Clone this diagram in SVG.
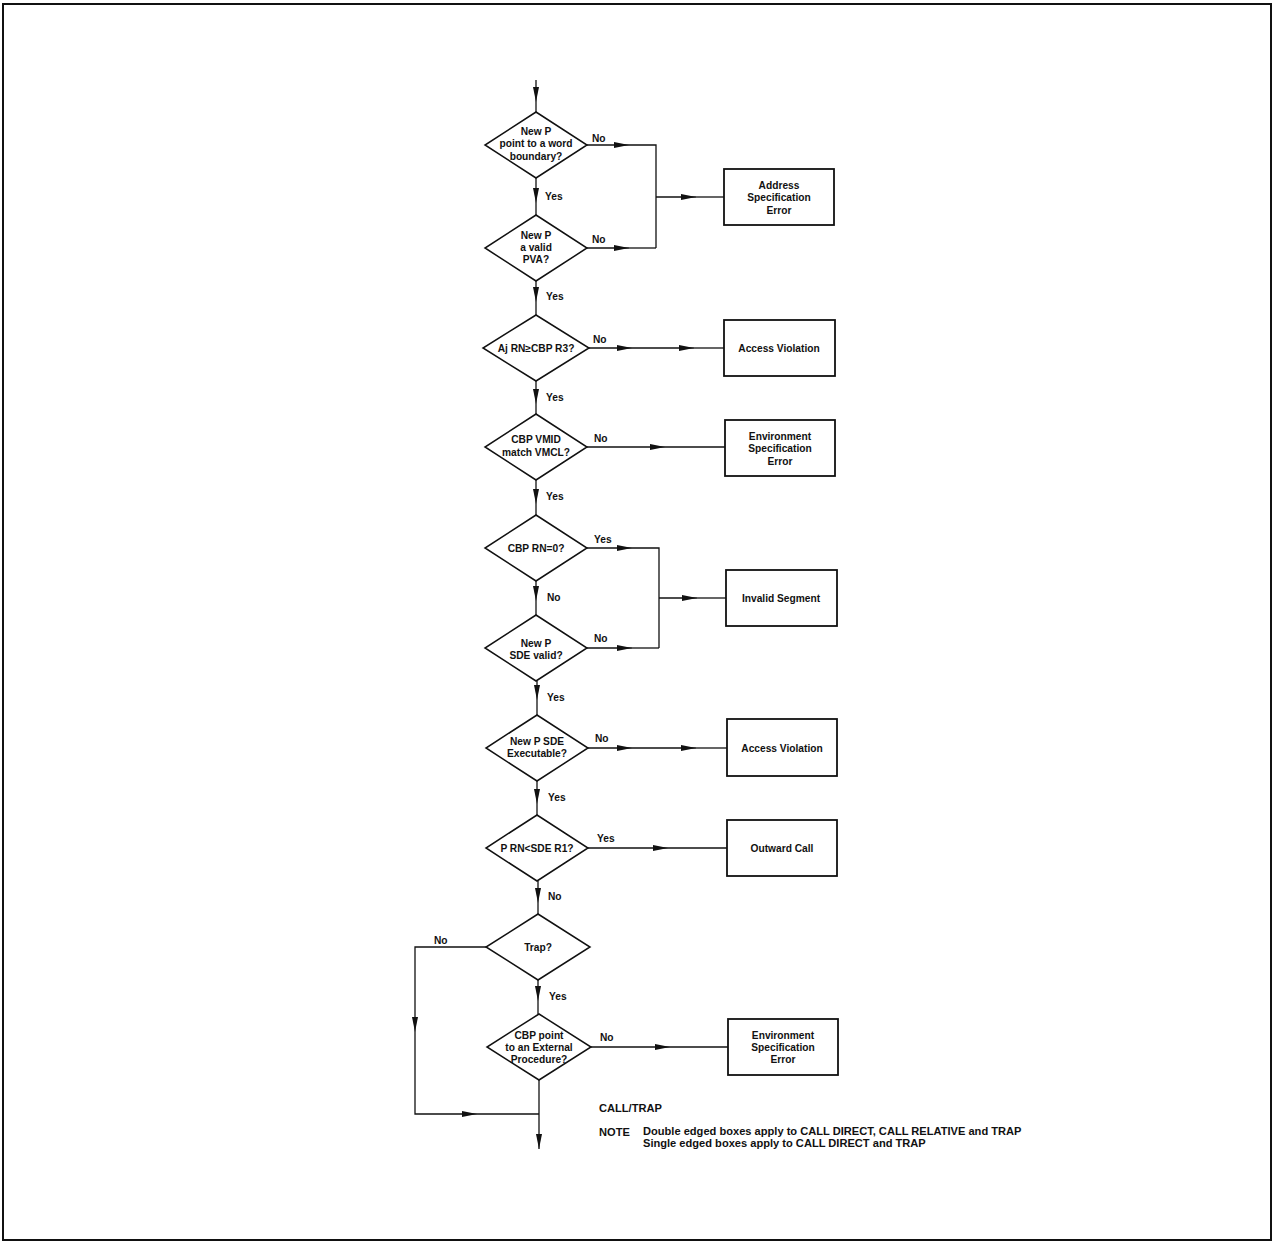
<svg xmlns="http://www.w3.org/2000/svg" width="1274" height="1243" viewBox="0 0 1274 1243">
<defs>
<marker id="ah" viewBox="0 0 15 6" refX="15" refY="3" markerWidth="15" markerHeight="6" markerUnits="userSpaceOnUse" orient="auto">
<path d="M0,0 L15,3 L0,6 z" fill="#111"/>
</marker>
<style>
text{font-family:"Liberation Sans",Arial,sans-serif;font-weight:bold;font-size:10.2px;fill:#111}
.c{text-anchor:middle}
.n{font-size:11.1px}
.d{fill:#fff;stroke:#111;stroke-width:1.5}
.b{fill:#fff;stroke:#111;stroke-width:1.8}
.l{fill:none;stroke:#111;stroke-width:1.3}
.a{fill:none;stroke:#111;stroke-width:1.3;marker-end:url(#ah)}
</style>
</defs>
<rect width="1274" height="1243" fill="#fff"/>
<rect x="3" y="4" width="1268" height="1236" fill="none" stroke="#111" stroke-width="2"/>

<g id="connectors">
<path class="a" d="M536,80 V102"/><path class="l" d="M536,102 V112"/>
<path class="a" d="M536,178 V203"/><path class="l" d="M536,203 V215"/>
<path class="a" d="M587,145 H629"/><path class="l" d="M629,145 H656 V248"/>
<path class="a" d="M587,248 H629"/><path class="l" d="M629,248 H656"/>
<path class="a" d="M656,197 H696"/><path class="l" d="M696,197 H724"/>
<path class="a" d="M536,281 V302"/><path class="l" d="M536,302 V315"/>
<path class="a" d="M589,348 H632"/><path class="a" d="M632,348 H694"/><path class="l" d="M694,348 H724"/>
<path class="a" d="M536,381 V404"/><path class="l" d="M536,404 V414"/>
<path class="a" d="M587,447 H665"/><path class="l" d="M665,447 H725"/>
<path class="a" d="M536,480 V504"/><path class="l" d="M536,504 V515"/>
<path class="a" d="M587,548 H632"/><path class="l" d="M632,548 H659 V648"/>
<path class="a" d="M587,648 H632"/><path class="l" d="M632,648 H659"/>
<path class="a" d="M659,598 H697"/><path class="l" d="M697,598 H726"/>
<path class="a" d="M536,581 V601"/><path class="l" d="M536,601 V615"/>
<path class="a" d="M537,681 V700"/><path class="l" d="M537,700 V715"/>
<path class="a" d="M588,748 H632"/><path class="a" d="M632,748 H696"/><path class="l" d="M696,748 H727"/>
<path class="a" d="M537,781 V804"/><path class="l" d="M537,804 V815"/>
<path class="a" d="M588,848 H668"/><path class="l" d="M668,848 H727"/>
<path class="a" d="M538,881 V903"/><path class="l" d="M538,903 V914"/>
<path class="a" d="M486,947 H415 V1032"/><path class="a" d="M415,1032 V1114 H477"/><path class="l" d="M477,1114 H539"/>
<path class="a" d="M538,980 V1001"/><path class="l" d="M538,1001 V1014"/>
<path class="a" d="M591,1047 H670"/><path class="l" d="M670,1047 H728"/>
<path class="a" d="M539,1080 V1149"/>
</g>

<g id="labels">
<text x="592" y="142">No</text>
<text x="545" y="200">Yes</text>
<text x="592" y="243">No</text>
<text x="546" y="300">Yes</text>
<text x="593" y="343">No</text>
<text x="546" y="401">Yes</text>
<text x="594" y="442">No</text>
<text x="546" y="500">Yes</text>
<text x="594" y="543">Yes</text>
<text x="547" y="601">No</text>
<text x="594" y="642">No</text>
<text x="547" y="701">Yes</text>
<text x="595" y="742">No</text>
<text x="548" y="801">Yes</text>
<text x="597" y="842">Yes</text>
<text x="548" y="900">No</text>
<text x="434" y="944">No</text>
<text x="549" y="1000">Yes</text>
<text x="600" y="1041">No</text>
</g>

<g id="d1"><polygon class="d" points="536,112 587,145 536,178 485,145"/>
<text class="c" x="536" y="135">New P</text><text class="c" x="536" y="147">point to a word</text><text class="c" x="536" y="160">boundary?</text></g>
<g id="d2"><polygon class="d" points="536,215 587,248 536,281 485,248"/>
<text class="c" x="536" y="239">New P</text><text class="c" x="536" y="251">a valid</text><text class="c" x="536" y="263">PVA?</text></g>
<g id="d3"><polygon class="d" points="536,315 589,348 536,381 483,348"/>
<text class="c" x="536" y="352">Aj RN≥CBP R3?</text></g>
<g id="d4"><polygon class="d" points="536,414 587,447 536,480 485,447"/>
<text class="c" x="536" y="443">CBP VMID</text><text class="c" x="536" y="456">match VMCL?</text></g>
<g id="d5"><polygon class="d" points="536,515 587,548 536,581 485,548"/>
<text class="c" x="536" y="552">CBP RN=0?</text></g>
<g id="d6"><polygon class="d" points="536,615 587,648 536,681 485,648"/>
<text class="c" x="536" y="647">New P</text><text class="c" x="536" y="659">SDE valid?</text></g>
<g id="d7"><polygon class="d" points="537,715 588,748 537,781 486,748"/>
<text class="c" x="537" y="745">New P SDE</text><text class="c" x="537" y="757">Executable?</text></g>
<g id="d8"><polygon class="d" points="537,815 588,848 537,881 486,848"/>
<text class="c" x="537" y="852">P RN&lt;SDE R1?</text></g>
<g id="d9"><polygon class="d" points="538,914 590,947 538,980 486,947"/>
<text class="c" x="538" y="951">Trap?</text></g>
<g id="d10"><polygon class="d" points="539,1014 591,1047 539,1080 487,1047"/>
<text class="c" x="539" y="1039">CBP point</text><text class="c" x="539" y="1051">to an External</text><text class="c" x="539" y="1063">Procedure?</text></g>

<g id="b1"><rect class="b" x="724" y="169" width="110" height="56"/>
<text class="c" x="779" y="189">Address</text><text class="c" x="779" y="201">Specification</text><text class="c" x="779" y="214">Error</text></g>
<g id="b2"><rect class="b" x="724" y="320" width="111" height="56"/>
<text class="c" x="779" y="352">Access Violation</text></g>
<g id="b3"><rect class="b" x="725" y="420" width="110" height="56"/>
<text class="c" x="780" y="440">Environment</text><text class="c" x="780" y="452">Specification</text><text class="c" x="780" y="465">Error</text></g>
<g id="b4"><rect class="b" x="726" y="570" width="111" height="56"/>
<text class="c" x="781" y="602">Invalid Segment</text></g>
<g id="b5"><rect class="b" x="727" y="719" width="110" height="57"/>
<text class="c" x="782" y="752">Access Violation</text></g>
<g id="b6"><rect class="b" x="727" y="820" width="110" height="56"/>
<text class="c" x="782" y="852">Outward Call</text></g>
<g id="b7"><rect class="b" x="728" y="1019" width="110" height="56"/>
<text class="c" x="783" y="1039">Environment</text><text class="c" x="783" y="1051">Specification</text><text class="c" x="783" y="1063">Error</text></g>

<g id="note">
<text class="n" x="599" y="1112">CALL/TRAP</text>
<text class="n" x="599" y="1136">NOTE</text>
<text class="n" x="643" y="1135">Double edged boxes apply to CALL DIRECT, CALL RELATIVE and TRAP</text>
<text class="n" x="643" y="1147">Single edged boxes apply to CALL DIRECT and TRAP</text>
</g>
</svg>
